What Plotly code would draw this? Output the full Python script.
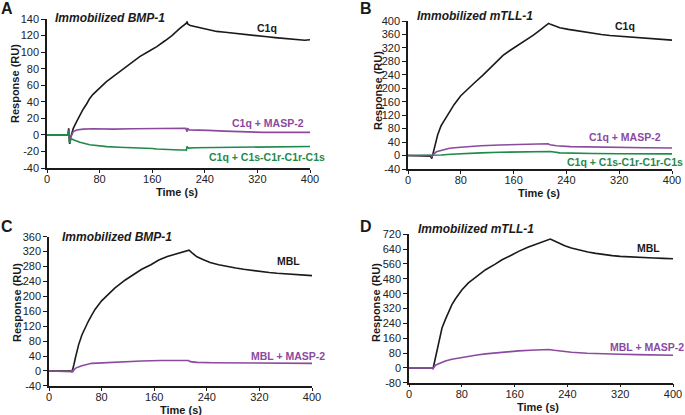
import plotly.graph_objects as go

# ---------------- data ----------------
x_ticks = [0, 80, 160, 240, 320, 400]
x_tick_labels = ["0", "80", "160", "240", "320", "400"]

yA_ticks = [-40, -20, 0, 20, 40, 60, 80, 100, 120, 140]
yB_ticks = [-40, 0, 40, 80, 120, 160, 200, 240, 280, 320, 360, 400]
yC_ticks = [-40, 0, 40, 80, 120, 160, 200, 240, 280, 320, 360]
yD_ticks = [-80, 0, 80, 160, 240, 320, 400, 480, 560, 640, 720]

# Panel A : Immobilized BMP-1
A_c1q_t = [0, 10, 20, 30, 32, 33, 34.5, 36, 38, 40, 45, 50, 55, 60, 65, 70, 80, 90, 100, 116, 130, 141, 155,
           167, 180, 190, 202, 210, 212, 213, 214, 218, 225, 235, 245, 258, 271, 284, 296, 310, 321, 335, 347,
           360, 372, 382, 392, 400]
A_c1q_v = [0, 0, 0, 0, 0, 8, -11, -3, 3, 8, 16, 24, 31, 37, 44, 49, 57, 64, 70, 80, 88, 94.5, 101,
           106.6, 114, 120, 128.7, 133, 135, 137, 134, 132, 130.7, 128.5, 126.7, 125, 124, 122.7, 121.5, 120.5,
           119.5, 118.5, 117.5, 116.5, 115.5, 114.6, 114.4, 115]
A_masp_t = [0, 10, 20, 30, 32, 33, 34.5, 36, 38, 40, 45, 55, 70, 100, 130, 160, 190, 205, 211, 213, 214, 216,
            225, 245, 270, 300, 330, 360, 400]
A_masp_v = [0, 0, 0, 0, 0, 6, -9, -3, 2, 4, 6, 7, 7.5, 7, 7.5, 8, 8, 8.5, 8, 4, 8, 6,
            6, 5.5, 4.5, 3.5, 3, 3, 3]
A_c1s_t = [0, 10, 20, 30, 32, 33, 34.5, 36, 38, 40, 50, 65, 80, 91, 110, 141, 160, 167, 190, 202, 211, 212,
           213, 215, 225, 260, 300, 350, 400]
A_c1s_v = [0, 0, 0, 0, 0, 5, -10, -6, -5, -6, -9, -12, -13.5, -14.2, -15, -15.4, -16.5, -17, -18, -18.2, -18,
           -18.5, -14, -16, -15.5, -15.2, -15, -14.5, -14]

# Panel B : Immobilized mTLL-1
B_c1q_t = [0, 30, 34, 36, 38, 40, 42, 45, 50, 55, 60, 65, 70, 80, 90, 100, 114, 130, 144, 155, 164, 180,
           190, 200, 208, 213, 216, 222, 230, 243, 255, 268, 281, 293, 306, 319, 331, 344, 357, 369, 384, 400]
B_c1q_v = [0, 0, -2, -9, 5, 22, 40, 62, 88, 105, 122, 138, 152, 178, 198, 215, 240, 270, 298, 313, 324,
           345, 358, 373, 386, 393, 390, 385, 380, 375, 371, 367, 363, 360, 357, 355, 352.5, 350, 348, 346.5,
           345, 343]
B_masp_t = [0, 35, 36, 38, 43, 50, 63, 75, 89, 110, 139, 170, 200, 212, 215, 225, 246, 280, 320, 360, 400]
B_masp_v = [0, 0, -3, 3, 11, 15, 21.5, 24, 26.5, 29, 31.4, 32.5, 33.4, 35, 32, 29, 26.5, 25, 24, 23, 22.5]
B_c1s_t = [0, 40, 50, 65, 89, 110, 139, 170, 200, 212, 216, 230, 246, 280, 320, 360, 400]
B_c1s_v = [0, 0, 1.5, 3.7, 6.7, 8, 9.7, 10.5, 11.5, 13, 12, 8, 6.7, 6, 5.5, 5.2, 5]

# Panel C : Immobilized BMP-1
C_mbl_t = [0, 30, 34, 35, 36, 38, 40, 42, 45, 50, 55, 60, 65, 70, 80, 91, 100, 116, 130, 141, 155, 167, 180,
           195, 205, 213, 218, 225, 235, 245, 258, 271, 284, 296, 310, 321, 335, 347, 360, 372, 385, 400]
C_mbl_v = [0, 0, 0, -3, 2, 18, 34, 50, 70, 96.5, 116, 134, 150, 165, 188, 208, 222, 244, 259, 272.6, 285,
           297.6, 307, 315.5, 320, 324, 316, 306, 298, 291, 285, 280, 276, 272.6, 269, 266, 264, 262, 260, 259,
           257, 255.6]
C_masp_t = [0, 33, 34, 35, 36, 37, 40, 45, 50, 65, 91, 116, 141, 170, 202, 212, 215, 225, 250, 300, 350, 400]
C_masp_v = [0, 0, -2, 3, -3, 1, 7, 11, 14, 20.5, 23, 25, 26.8, 28, 29.5, 28, 25, 23, 22, 21, 20.5, 20.5]

# Panel D : Immobilized mTLL-1
D_mbl_t = [0, 35, 36.4, 38, 40, 42, 45, 50, 55, 60, 65, 70, 80, 90, 100, 116, 130, 141, 155, 166, 180, 190,
           199, 208, 214, 218, 226, 236, 246, 258, 271, 283, 295, 308, 320, 333, 345, 358, 371, 385, 400]
D_mbl_v = [0, 0, -5, 20, 45, 90, 134.6, 215, 260, 300, 341, 370, 420, 458, 487, 529, 558, 583, 607, 628, 650,
           663, 678.5, 688, 694, 688, 673, 658, 646, 635, 625, 617, 610, 605, 601, 598, 596, 594, 592, 590, 588]
D_masp_t = [0, 35, 36.4, 38, 40, 45, 55, 65, 78, 90, 103, 116, 128, 141, 154, 166, 184, 201, 212, 220, 232,
            246, 270, 295, 320, 345, 370, 400]
D_masp_v = [0, 0, -5, 5, 14, 22, 37, 46, 55, 63, 69, 75.4, 80, 84.4, 88, 91.5, 95, 98.6, 99, 95, 90, 84.4, 79,
            75, 73, 71.5, 70, 68]

# ---------------- styling ----------------
W, H = 685, 415
BLACK = "#1a1a1a"
PURPLE = "#8b4a9e"
GREEN = "#1f8a4c"
FONT = "Liberation Sans, Arial, sans-serif"


def px(x):
    return x / W


def py(y):
    return 1 - y / H


fig = go.Figure()

series = [
    ("x", "y", A_c1q_t, A_c1q_v, BLACK),
    ("x", "y", A_masp_t, A_masp_v, PURPLE),
    ("x", "y", A_c1s_t, A_c1s_v, GREEN),
    ("x2", "y2", B_c1q_t, B_c1q_v, BLACK),
    ("x2", "y2", B_masp_t, B_masp_v, PURPLE),
    ("x2", "y2", B_c1s_t, B_c1s_v, GREEN),
    ("x3", "y3", C_mbl_t, C_mbl_v, BLACK),
    ("x3", "y3", C_masp_t, C_masp_v, PURPLE),
    ("x4", "y4", D_mbl_t, D_mbl_v, BLACK),
    ("x4", "y4", D_masp_t, D_masp_v, PURPLE),
]
for xa, ya, t, v, c in series:
    fig.add_trace(go.Scatter(x=t, y=v, xaxis=xa, yaxis=ya, mode="lines",
                             line=dict(color=c, width=1.6), showlegend=False, hoverinfo="skip"))

axis_common = dict(showline=True, linecolor=BLACK, linewidth=1.5, ticks="outside",
                   tickwidth=1.2, tickcolor=BLACK, showgrid=False, zeroline=False, automargin=False,
                   tickfont=dict(family=FONT, size=11, color="#222"))


def xax(left, right, anchor):
    return dict(domain=[px(left), px(right)], range=[0, 400], tickvals=x_ticks, ticktext=x_tick_labels,
                anchor=anchor, ticklen=3, ticklabelstandoff=-3, **axis_common)


def yax(top, bottom, rng, ticks, anchor):
    return dict(domain=[py(bottom), py(top)], range=rng, tickvals=ticks, ticklen=4,
                ticktext=[str(t) for t in ticks], anchor=anchor, **axis_common)


fig.update_layout(
    template="none",
    width=W, height=H, autosize=False,
    margin=dict(l=0, r=0, t=0, b=0, pad=0),
    paper_bgcolor="white", plot_bgcolor="white",
    xaxis=xax(47, 310, "y"),
    yaxis=yax(19, 168, [-40, 140], yA_ticks, "x"),
    xaxis2=xax(408, 672, "y2"),
    yaxis2=yax(21, 169, [-40, 400], yB_ticks, "x2"),
    xaxis3=xax(49, 312, "y3"),
    yaxis3=yax(236.7, 385.9, [-40, 360], yC_ticks, "x3"),
    xaxis4=xax(409, 673, "y4"),
    yaxis4=yax(234.3, 382.7, [-80, 720], yD_ticks, "x4"),
)

ann = []


def text(x, y, s, size, color=BLACK, bold=True, italic=False, angle=0, xanchor="center"):
    t = s
    if bold:
        t = "<b>" + t + "</b>"
    if italic:
        t = "<i>" + t + "</i>"
    ann.append(dict(x=px(x), y=py(y), xref="paper", yref="paper", text=t, showarrow=False,
                    xanchor=xanchor, yanchor="middle", textangle=angle,
                    font=dict(family=FONT, size=size, color=color)))


# panel letters
text(7, 8, "A", 16)
text(366, 8, "B", 16)
text(7, 226, "C", 16)
text(366, 226, "D", 16)

# panel titles
text(110, 18, "Immobilized BMP-1", 12, italic=True)
text(475, 16, "Immobilized mTLL-1", 12, italic=True)
text(117, 237, "Immobilized BMP-1", 12, italic=True)
text(476, 229, "Immobilized mTLL-1", 12, italic=True)

# axis titles
for (x, y) in [(15, 84), (378, 91), (17, 303), (376, 303)]:
    text(x, y, "Response (RU)", 11, angle=-90)
for (x, y) in [(177, 192), (539, 193), (181, 410), (538, 407)]:
    text(x, y, "Time (s)", 11)

# series labels
text(267, 28, "C1q", 10.5)
text(268, 123, "C1q + MASP-2", 10.5, color=PURPLE)
text(267, 157, "C1q + C1s-C1r-C1r-C1s", 10.5, color=GREEN)
text(625, 26, "C1q", 10.5)
text(625, 137, "C1q + MASP-2", 10.5, color=PURPLE)
text(685, 162, "C1q + C1s-C1r-C1r-C1s", 10.5, color=GREEN, xanchor="right")
text(288, 261, "MBL", 10.5)
text(288, 356, "MBL + MASP-2", 10.5, color=PURPLE)
text(648, 248, "MBL", 10.5)
text(686, 347, "MBL + MASP-2", 10.5, color=PURPLE, xanchor="right")

fig.update_layout(annotations=ann)

fig.write_html("out.html", config={"displayModeBar": False},
               post_script="document.body.style.margin='0';document.body.style.overflow='hidden';")
